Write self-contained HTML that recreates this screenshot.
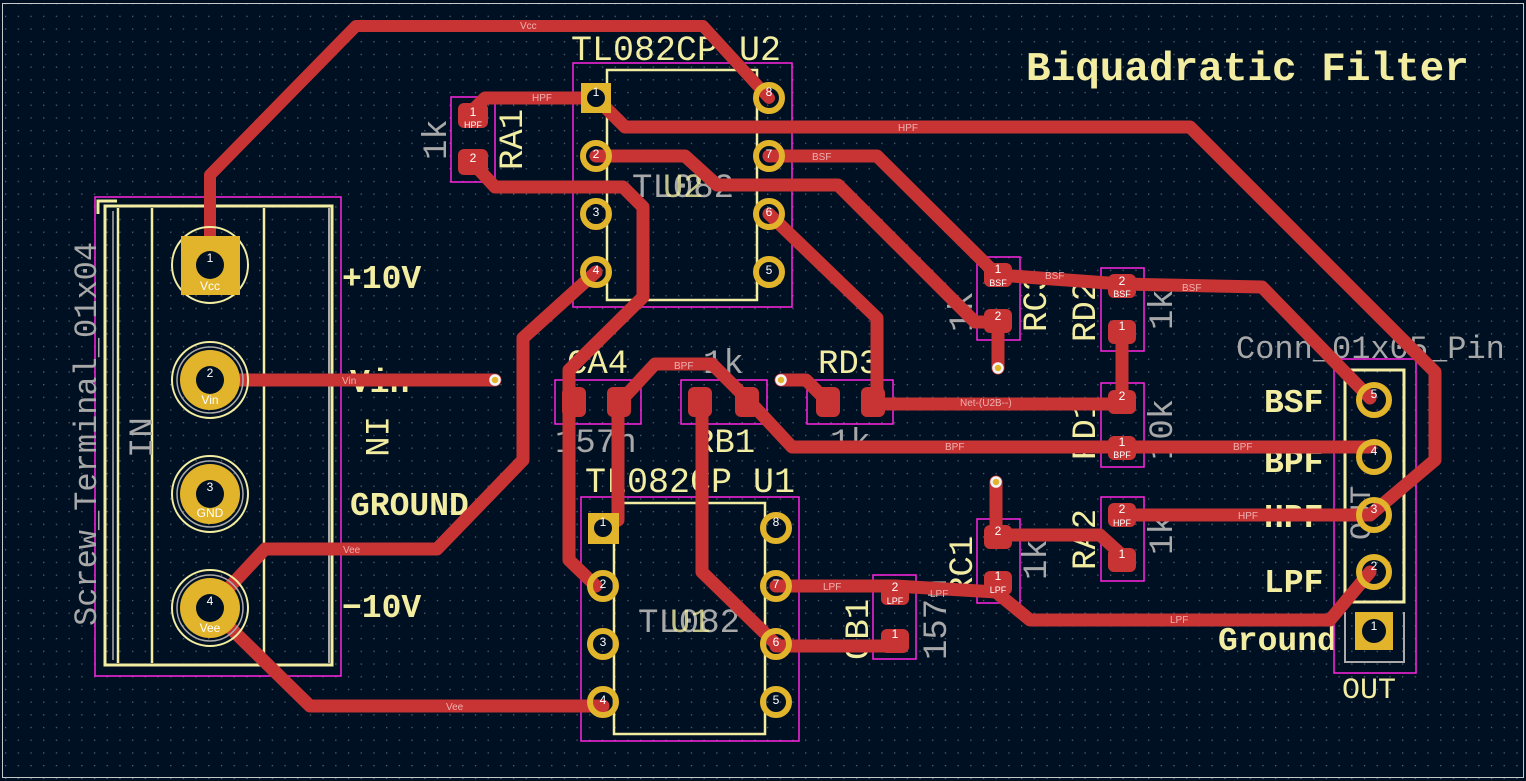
<!DOCTYPE html>
<html><head><meta charset="utf-8"><style>
html,body{margin:0;padding:0;background:#001023;}
svg{display:block}
.t{fill:none;stroke:#c83434;stroke-linejoin:round;stroke-linecap:round}
.ly{font-family:"Liberation Mono","DejaVu Sans Mono",monospace;fill:#f2eda1}
.lg{font-family:"Liberation Mono","DejaVu Sans Mono",monospace;fill:#a8a8a8}
.nl{font-family:"Liberation Sans",sans-serif;fill:#f0b0b0;font-size:10px}
.pn{font-family:"Liberation Sans",sans-serif;fill:#ffffff;font-size:12px;text-anchor:middle}
.smd{fill:#c83434}
.cy{fill:none;stroke:#ff26e2;stroke-width:1.5}
.sk{fill:none;stroke:#f2eda1;stroke-width:3}
</style></head><body>
<svg width="1526" height="781" viewBox="0 0 1526 781" xmlns="http://www.w3.org/2000/svg">
<defs>
<pattern id="g" width="12.7" height="12.7" patternUnits="userSpaceOnUse" x="5" y="3">
<rect x="0" y="0" width="1.3" height="1.3" fill="#55606e"/>
</pattern>
</defs>
<rect width="1526" height="781" fill="#001023"/>
<rect width="1526" height="781" fill="url(#g)"/>
<rect x="2.5" y="3.5" width="1521" height="774" fill="none" stroke="#c8c8c8" stroke-width="1"/>

<!-- Title -->
<text x="1026" y="80" class="ly" font-size="41" font-weight="bold">Biquadratic Filter</text>

<!-- Screw terminal silkscreen -->
<rect x="95" y="197" width="246" height="479" class="cy"/>
<rect x="105" y="206" width="227" height="459" class="sk" stroke-width="2.5"/>
<line x1="118" y1="208" x2="118" y2="663" stroke="#f2eda1" stroke-width="2.5"/>
<line x1="152" y1="208" x2="152" y2="663" stroke="#f2eda1" stroke-width="2.5"/>
<line x1="264" y1="208" x2="264" y2="663" stroke="#f2eda1" stroke-width="2.5"/>
<line x1="329" y1="208" x2="329" y2="663" stroke="#aaaaaa" stroke-width="2"/>
<line x1="113" y1="211" x2="113" y2="660" stroke="#aaaaaa" stroke-width="1.5"/>
<path d="M98 214 V201 H117" class="sk" stroke-width="2.5"/>
<text transform="translate(96,626) rotate(-90)" class="lg" font-size="32">Screw_Terminal_01x04</text>
<text transform="translate(152,458) rotate(-90)" class="lg" font-size="34">IN</text>
<text transform="translate(366,416) rotate(90)" class="ly" font-size="34">IN</text>
<text x="342" y="288" class="ly" font-size="33" font-weight="bold">+10V</text>
<text x="350" y="392" class="ly" font-size="33" font-weight="bold">Vin</text>
<text x="350" y="515" class="ly" font-size="33" font-weight="bold">GROUND</text>
<text x="342" y="617" class="ly" font-size="33" font-weight="bold">−10V</text>

<!-- Right labels -->
<text x="1264" y="412" class="ly" font-size="33" font-weight="bold">BSF</text>
<text x="1264" y="472" class="ly" font-size="33" font-weight="bold">BPF</text>
<text x="1264" y="527" class="ly" font-size="33" font-weight="bold">HPF</text>
<text x="1264" y="592" class="ly" font-size="33" font-weight="bold">LPF</text>
<text x="1218" y="650" class="ly" font-size="33" font-weight="bold">Ground</text>
<text x="1236" y="358" class="lg" font-size="32">Conn_01x05_Pin</text>
<text x="1342" y="698" class="ly" font-size="30">OUT</text>
<text transform="translate(1370,540) rotate(-90)" class="lg" font-size="30">OUT</text>
<rect x="1334" y="359" width="82" height="314" class="cy"/>
<rect x="1345" y="370" width="59" height="232" class="sk" stroke-width="2.5"/>
<path d="M1345 612 V662 H1404 V612" fill="none" stroke="#aaaaaa" stroke-width="2"/>

<!-- U2 -->
<rect x="573" y="63" width="219" height="244" class="cy" stroke-width="2.5"/>
<rect x="607" y="70" width="150" height="230" fill="none" stroke="#f2eda1" stroke-width="2.5"/>
<text x="571" y="60" class="ly" font-size="35">TL082CP U2</text>
<text x="632" y="197" class="lg" font-size="34">TL082</text>
<text x="663" y="197" class="ly" font-size="34" opacity="0.8">U2</text>
<!-- U1 -->
<rect x="581" y="497" width="218" height="244" class="cy" stroke-width="2.5"/>
<rect x="614" y="503" width="151" height="231" fill="none" stroke="#f2eda1" stroke-width="2.5"/>
<text x="585" y="492" class="ly" font-size="35">TL082CP U1</text>
<text x="638" y="632" class="lg" font-size="34">TL082</text>
<text x="670" y="632" class="ly" font-size="34" opacity="0.8">U1</text>

<!-- SMD part outlines / labels -->
<g class="cy">
<rect x="451" y="97" width="44" height="85"/>
<rect x="977" y="257" width="43" height="83"/>
<rect x="1101" y="268" width="43" height="83"/>
<rect x="1101" y="383" width="43" height="84"/>
<rect x="1101" y="497" width="43" height="84"/>
<rect x="977" y="519" width="43" height="84"/>
<rect x="873" y="575" width="43" height="84"/>
<rect x="555" y="380" width="86" height="44"/>
<rect x="681" y="380" width="86" height="44"/>
<rect x="807" y="380" width="86" height="44"/>
</g>
<text transform="translate(522,170) rotate(-90)" class="ly" font-size="34">RA1</text>
<text transform="translate(446,160) rotate(-90)" class="lg" font-size="34">1k</text>
<text transform="translate(1046,332) rotate(-90)" class="ly" font-size="34">RC3</text>
<text transform="translate(972,332) rotate(-90)" class="lg" font-size="34">1k</text>
<text transform="translate(1095,342) rotate(-90)" class="ly" font-size="34">RD2</text>
<text transform="translate(1172,330) rotate(-90)" class="lg" font-size="34">1k</text>
<text transform="translate(1095,460) rotate(-90)" class="ly" font-size="34">RD1</text>
<text transform="translate(1172,460) rotate(-90)" class="lg" font-size="34">10k</text>
<text transform="translate(1095,570) rotate(-90)" class="ly" font-size="34">RA2</text>
<text transform="translate(1172,555) rotate(-90)" class="lg" font-size="34">1k</text>
<text transform="translate(972,597) rotate(-90)" class="ly" font-size="34">RC1</text>
<text transform="translate(1046,580) rotate(-90)" class="lg" font-size="34">1k</text>
<text transform="translate(868,660) rotate(-90)" class="ly" font-size="34">CB1</text>
<text transform="translate(946,660) rotate(-90)" class="lg" font-size="34">157n</text>
<text x="567" y="373" class="ly" font-size="34">CA4</text>
<text x="555" y="452" class="lg" font-size="34">157n</text>
<text x="703" y="373" class="lg" font-size="34">1k</text>
<text x="694" y="452" class="ly" font-size="34">RB1</text>
<text x="818" y="373" class="ly" font-size="34">RD3</text>
<text x="830" y="452" class="lg" font-size="34">1k</text>

<!-- Tracks -->
<g class="t" stroke-width="13">
<path d="M210 265 V175 L356 26 H703 L769 98" stroke-width="12"/>
<path d="M210 380 H495"/>
<path d="M210 608 L265 549 H437 L523 460 V338 L596 272"/>
<path d="M210 608 L310 706 H603"/>
<path d="M470 113 L485 98 H596"/>
<path d="M596 98 L625 127 H1190 L1435 372 V460 L1370 515"/>
<path d="M1122 515 H1370"/>
<path d="M470 160 L495 187 H623 L643 207 V297 L569 370 V560 L596 586"/>
<path d="M618 404 V520 L603 528"/>
<path d="M618 404 L655 364 H712 L752 404 L792 447 H1370"/>
<path d="M702 404 V572 L776 644"/>
<path d="M776 586 H895 L996 592"/>
<path d="M776 646 H895"/>
<path d="M996 592 L1030 620 H1330 L1370 572"/>
<path d="M996 535 V482"/>
<path d="M996 535 H1100 L1122 555"/>
<path d="M781 380 H806 L830 404"/>
<path d="M873 404 H1122"/>
<path d="M769 214 L877 318 V404"/>
<path d="M1122 402 V330"/>
<path d="M998 275 L1122 284 L1262 287 L1370 398"/>
<path d="M769 156 H877 L996 274"/>
<path d="M596 156 H685 L717 185 H838 L975 322 H998"/>
<path d="M998 322 V368"/>
</g>
<!-- track labels -->
<g class="nl">
<text x="520" y="29">Vcc</text>
<text x="532" y="101">HPF</text>
<text x="898" y="131">HPF</text>
<text x="812" y="160">BSF</text>
<text x="1045" y="279">BSF</text>
<text x="1182" y="291">BSF</text>
<text x="960" y="406">Net-(U2B--)</text>
<text x="945" y="450">BPF</text>
<text x="1233" y="450">BPF</text>
<text x="1238" y="519">HPF</text>
<text x="1170" y="623">LPF</text>
<text x="823" y="590">LPF</text>
<text x="930" y="597">LPF</text>
<text x="343" y="553">Vee</text>
<text x="446" y="710">Vee</text>
<text x="342" y="384">Vin</text>
<text x="674" y="369">BPF</text>
</g>

<!-- THT pads: terminal -->
<g>
<circle cx="210" cy="265" r="38" fill="none" stroke="#f2eda1" stroke-width="2"/>
<rect x="181" y="236" width="59" height="59" fill="#e2b42b"/>
<circle cx="210" cy="265" r="14" fill="#001023"/>
<text x="210" y="262" class="pn" font-size="24">1</text><text x="210" y="290" class="pn" font-size="18">Vcc</text>
<circle cx="210" cy="380" r="38" fill="none" stroke="#f2eda1" stroke-width="2"/>
<circle cx="210" cy="380" r="33" fill="none" stroke="#aaa" stroke-width="1.5"/>
<circle cx="210" cy="380" r="30" fill="#e2b42b"/><circle cx="210" cy="380" r="14" fill="#001023"/>
<text x="210" y="377" class="pn" font-size="24">2</text><text x="210" y="404" class="pn" font-size="18">Vin</text>
<circle cx="210" cy="494" r="38" fill="none" stroke="#f2eda1" stroke-width="2"/>
<circle cx="210" cy="494" r="33" fill="none" stroke="#aaa" stroke-width="1.5"/>
<circle cx="210" cy="494" r="30" fill="#e2b42b"/><circle cx="210" cy="494" r="14" fill="#001023"/>
<text x="210" y="491" class="pn" font-size="24">3</text><text x="210" y="517" class="pn" font-size="16">GND</text>
<circle cx="210" cy="608" r="38" fill="none" stroke="#f2eda1" stroke-width="2"/>
<circle cx="210" cy="608" r="33" fill="none" stroke="#aaa" stroke-width="1.5"/>
<circle cx="210" cy="608" r="30" fill="#e2b42b"/><circle cx="210" cy="608" r="14" fill="#001023"/>
<text x="210" y="605" class="pn" font-size="24">4</text><text x="210" y="632" class="pn" font-size="18">Vee</text>
</g>

<!-- IC pads -->
<g fill="none" stroke="#e2b42b" stroke-width="6">
<circle cx="596" cy="156" r="13"/><circle cx="596" cy="214" r="13"/><circle cx="596" cy="272" r="13"/>
<circle cx="769" cy="98" r="13"/><circle cx="769" cy="156" r="13"/><circle cx="769" cy="214" r="13"/><circle cx="769" cy="272" r="13"/>
<circle cx="603" cy="586" r="13"/><circle cx="603" cy="644" r="13"/><circle cx="603" cy="702" r="13"/>
<circle cx="776" cy="528" r="13"/><circle cx="776" cy="586" r="13"/><circle cx="776" cy="644" r="13"/><circle cx="776" cy="702" r="13"/>
<circle cx="1374" cy="400" r="15"/><circle cx="1374" cy="457" r="15"/><circle cx="1374" cy="515" r="15"/><circle cx="1374" cy="572" r="15"/>
</g>
<rect x="581" y="83" width="30" height="30" fill="#e2b42b"/><circle cx="596" cy="98" r="9" fill="#001023"/>
<rect x="588" y="513" width="31" height="31" fill="#e2b42b"/><circle cx="603" cy="528" r="9" fill="#001023"/>
<rect x="1355" y="612" width="38" height="38" fill="#e2b42b"/><circle cx="1374" cy="631" r="12" fill="#001023"/>
<g class="pn" font-size="11">
<text x="596" y="96">1</text><text x="596" y="158">2</text><text x="596" y="216">3</text><text x="596" y="274">4</text>
<text x="769" y="96">8</text><text x="769" y="158">7</text><text x="769" y="216">6</text><text x="769" y="274">5</text>
<text x="603" y="526">1</text><text x="603" y="588">2</text><text x="603" y="646">3</text><text x="603" y="704">4</text>
<text x="776" y="526">8</text><text x="776" y="588">7</text><text x="776" y="646">6</text><text x="776" y="704">5</text>
<text x="1374" y="398">5</text><text x="1374" y="455">4</text><text x="1374" y="513">3</text><text x="1374" y="570">2</text><text x="1374" y="630">1</text>
</g>

<!-- SMD pads -->
<g class="smd">
<rect x="458" y="103" width="30" height="25" rx="6"/><rect x="458" y="149" width="30" height="26" rx="6"/>
<rect x="984" y="263" width="28" height="24" rx="6"/><rect x="984" y="309" width="28" height="24" rx="6"/>
<rect x="1108" y="274" width="28" height="24" rx="6"/><rect x="1108" y="320" width="28" height="24" rx="6"/>
<rect x="1108" y="390" width="28" height="24" rx="6"/><rect x="1108" y="436" width="28" height="24" rx="6"/>
<rect x="1108" y="503" width="28" height="24" rx="6"/><rect x="1108" y="548" width="28" height="24" rx="6"/>
<rect x="984" y="525" width="28" height="24" rx="6"/><rect x="984" y="571" width="28" height="24" rx="6"/>
<rect x="881" y="581" width="28" height="24" rx="6"/><rect x="881" y="629" width="28" height="24" rx="6"/>
<rect x="562" y="387" width="24" height="30" rx="6"/><rect x="607" y="387" width="24" height="30" rx="6"/>
<rect x="688" y="387" width="24" height="30" rx="6"/><rect x="735" y="387" width="24" height="30" rx="6"/>
<rect x="816" y="387" width="24" height="30" rx="6"/><rect x="861" y="387" width="24" height="30" rx="6"/>
</g>
<g class="pn" font-size="11">
<text x="473" y="116">1</text><text x="473" y="128" font-size="9">HPF</text><text x="473" y="162">2</text>
<text x="998" y="273">1</text><text x="998" y="286" font-size="9">BSF</text><text x="998" y="320">2</text>
<text x="1122" y="285">2</text><text x="1122" y="297" font-size="9">BSF</text><text x="1122" y="330">1</text>
<text x="1122" y="400">2</text><text x="1122" y="446">1</text><text x="1122" y="458" font-size="9">BPF</text>
<text x="1122" y="513">2</text><text x="1122" y="526" font-size="9">HPF</text><text x="1122" y="558">1</text>
<text x="998" y="535">2</text><text x="998" y="580">1</text><text x="998" y="593" font-size="9">LPF</text>
<text x="895" y="591">2</text><text x="895" y="604" font-size="9">LPF</text><text x="895" y="638">1</text>
</g>

<!-- vias -->
<g fill="#e2b42b" stroke="#f4f4f4" stroke-width="2.5">
<circle cx="495" cy="380" r="4.5"/><circle cx="781" cy="380" r="4.5"/>
<circle cx="998" cy="368" r="4.5"/><circle cx="996" cy="482" r="4.5"/>
</g>
</svg>
</body></html>
